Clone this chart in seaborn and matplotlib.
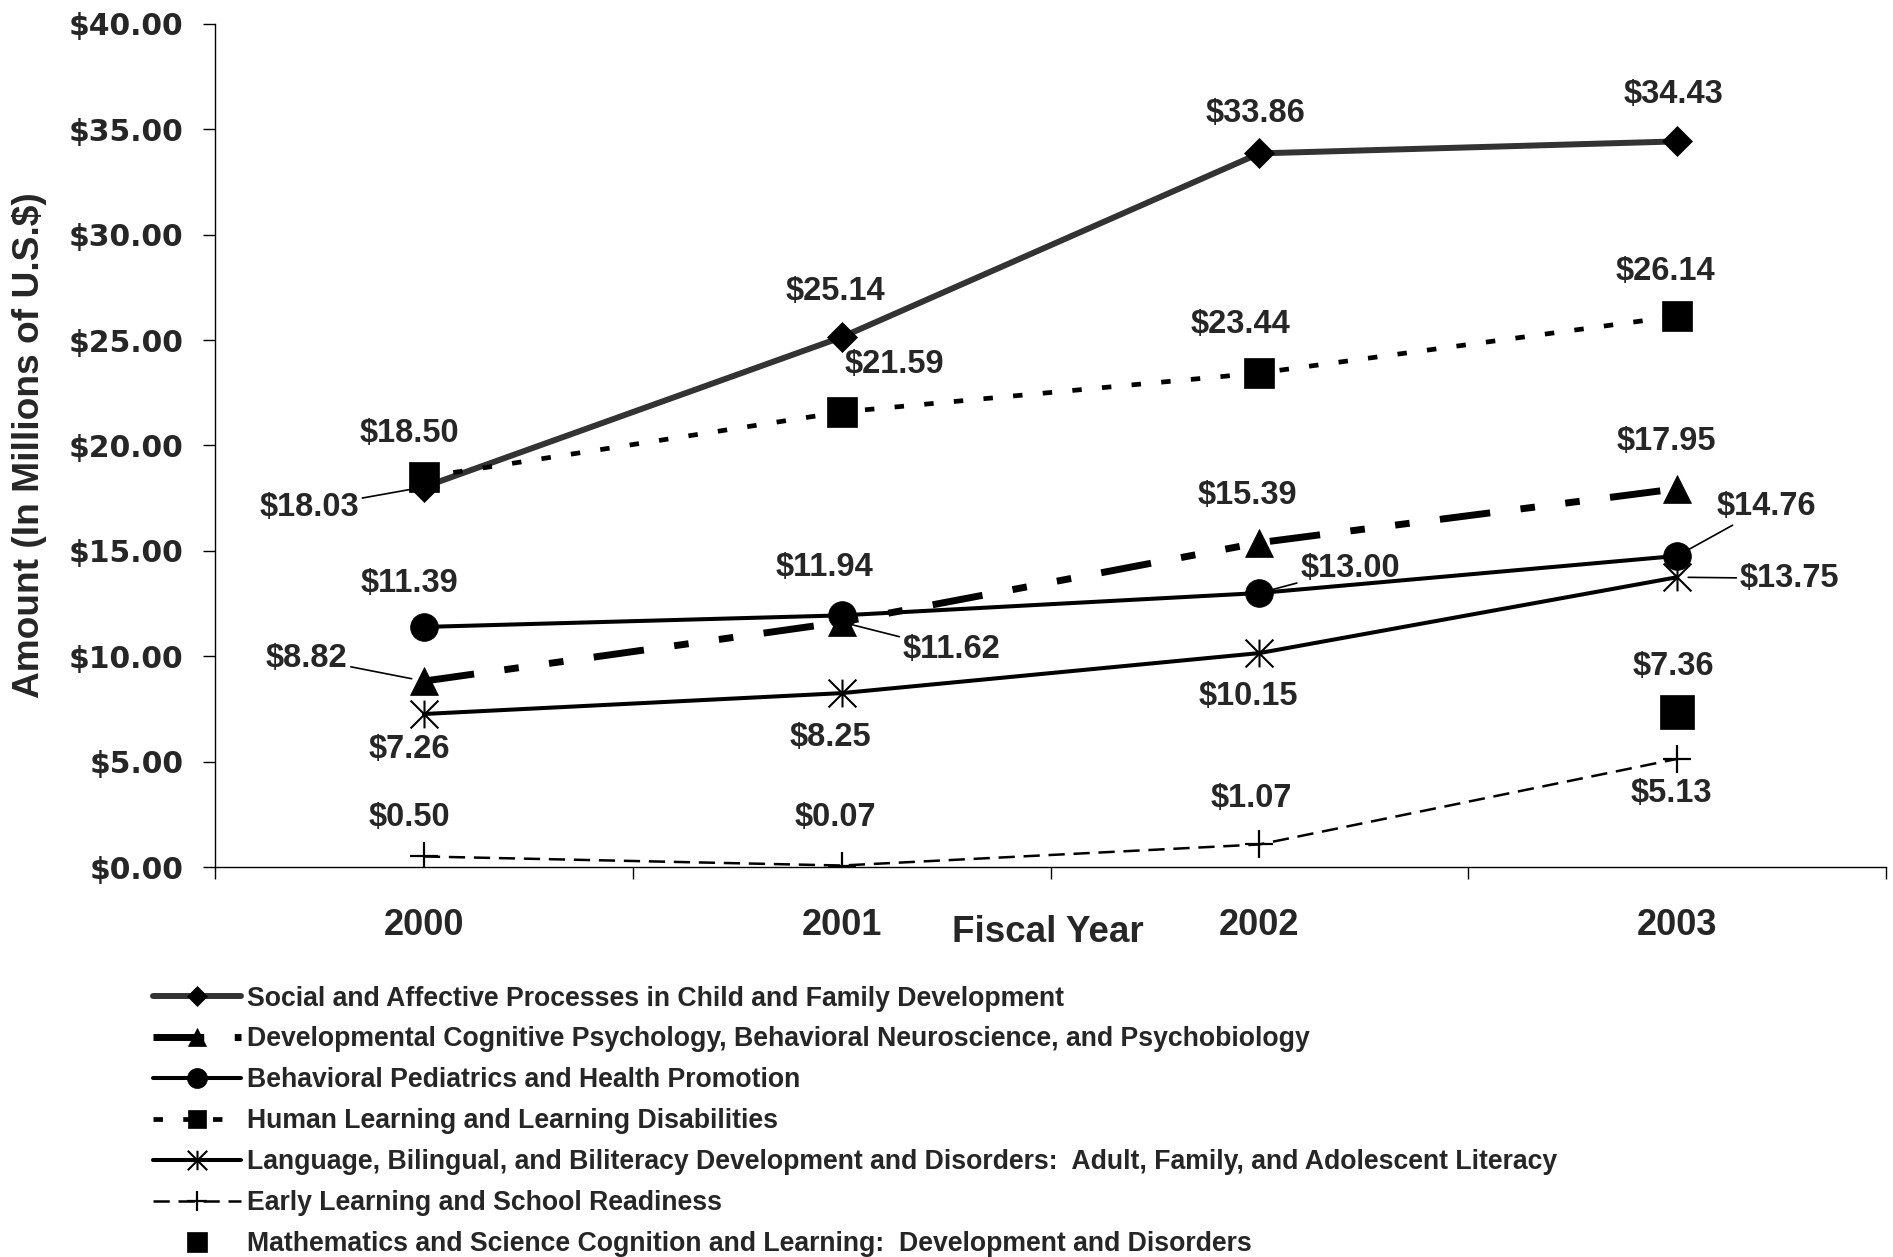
import matplotlib
matplotlib.use("Agg")
import matplotlib.pyplot as plt
from matplotlib import font_manager
from matplotlib.path import Path
import seaborn as sns
import pandas as pd

years = ["2000", "2001", "2002", "2003"]
pos = [0.5, 1.5, 2.5, 3.5]

social = [18.03, 25.14, 33.86, 34.43]
developmental = [8.82, 11.62, 15.39, 17.95]
pediatrics = [11.39, 11.94, 13.00, 14.76]
human_learning = [18.50, 21.59, 23.44, 26.14]
language = [7.26, 8.25, 10.15, 13.75]
early = [0.50, 0.07, 1.07, 5.13]
math_year = ["2003"]
math_vals = [7.36]

names = [
    "Social and Affective Processes in Child and Family Development",
    "Developmental Cognitive Psychology, Behavioral Neuroscience, and Psychobiology",
    "Behavioral Pediatrics and Health Promotion",
    "Human Learning and Learning Disabilities",
    "Language, Bilingual, and Biliteracy Development and Disorders:  Adult, Family, and Adolescent Literacy",
    "Early Learning and School Readiness",
    "Mathematics and Science Cognition and Learning:  Development and Disorders",
]

sns.set_style("ticks")
plt.rcParams['font.family'] = ['Liberation Sans', 'DejaVu Sans']
plt.rcParams['font.weight'] = 'bold'

installed = {f.name for f in font_manager.fontManager.ttflist}
narrow = 'Liberation Sans Narrow' if 'Liberation Sans Narrow' in installed else 'Liberation Sans'

# asterisk: x with a vertical bar
star = Path([(0, -1), (0, 1), (-1, -1), (1, 1), (-1, 1), (1, -1)],
            [Path.MOVETO, Path.LINETO, Path.MOVETO, Path.LINETO, Path.MOVETO, Path.LINETO])

fig = plt.figure(figsize=(18.93, 12.57), dpi=100)
ax = fig.add_axes([215 / 1893, 1 - 867 / 1257, 1671 / 1893, 843 / 1257])

styles = [
    (social, dict(color="#333333", lw=4.3, marker="D", ms=14.8, mfc="black", mec="black", mew=0.5)),
    (developmental, dict(color="black", lw=5, marker="^", ms=20, mfc="black", mec="black", mew=0.5,
                         linestyle=(0, (7.3, 4.4, 2.1, 4.4, 2.1, 4.4)))),
    (pediatrics, dict(color="black", lw=2.9, marker="o", ms=20, mfc="black", mec="black", mew=0.5)),
    (human_learning, dict(color="black", lw=3.4, marker="s", ms=21, mfc="black", mec="black", mew=0.5,
                          linestyle=(0, (2.0, 4.3)))),
    (language, dict(color="black", lw=2.9, marker=star, ms=20, mfc="black", mec="black", mew=1.5)),
    (early, dict(color="black", lw=1.8, marker="+", ms=20, mfc="black", mec="black", mew=1.6,
                 linestyle=(0, (6.5, 3.5)))),
]

for (vals, kw), name in zip(styles, names):
    df = pd.DataFrame({"x": pos, "y": vals})
    sns.lineplot(data=df, x="x", y="y", ax=ax, label=name, **kw)

mdf = pd.DataFrame({"x": [pos[years.index(y)] for y in math_year], "y": math_vals})
sns.lineplot(data=mdf, x="x", y="y", ax=ax, label=names[6], color="black", lw=0,
             marker="s", ms=24.5, mfc="black", mec="black", mew=0.5)

ax.set_xlim(0, 4)
ax.set_ylim(0, 40)
ax.set_xticks([0, 1, 2, 3, 4])
ax.set_xticklabels([])
ax.set_xticks(pos, minor=True)
ax.set_xticklabels(years, minor=True)
ax.tick_params(axis="x", which="major", direction="out", length=8.7, width=1, color="black")
ax.tick_params(axis="x", which="minor", length=0, pad=29.5, labelsize=26)
ax.set_yticks(range(0, 41, 5))
ax.set_yticklabels([f"${v:.2f}" for v in range(0, 41, 5)],
                   fontfamily="DejaVu Sans", fontweight="bold", fontsize=21.5)
ax.tick_params(axis="y", direction="out", length=8.7, width=1, color="black", pad=14)
for s in ["top", "right"]:
    ax.spines[s].set_visible(False)
for s in ["left", "bottom"]:
    ax.spines[s].set_color("black")
    ax.spines[s].set_linewidth(1)
ax.set_xlabel("")
ax.set_ylabel("")

fig.text(30 / 1893, 1 - 445 / 1257, "Amount (In Millions of U.S.$)", rotation=90,
         ha="center", va="center", fontsize=26.7, fontweight="bold", family=[narrow, 'Liberation Sans'])
ax.text(0.4985, -0.078, "Fiscal Year", transform=ax.transAxes, ha="center", va="center",
        fontsize=26.5, fontweight="bold")

# data labels: (series values, index, dx, dy) offsets in reference display pixels
k = 1.2073 / (100 / 72)
plain = [
    (social, 1, -5, 38), (social, 2, -3, 33), (social, 3, -3, 39),
    (human_learning, 0, -12, 36), (human_learning, 1, 44, 39), (human_learning, 2, -16, 40),
    (human_learning, 3, -10, 37),
    (developmental, 2, -10, 39), (developmental, 3, -9, 39),
    (pediatrics, 0, -12, 36), (pediatrics, 1, -14, 40),
    (language, 0, -12, -29), (language, 1, -9, -37), (language, 2, -9, -36),
    (early, 0, -12, 32), (early, 1, -5, 40), (early, 2, -7, 38), (early, 3, -5, -29),
]
for vals, i, dx, dy in plain:
    ax.annotate(f"${vals[i]:.2f}", (pos[i], vals[i]), xytext=(dx * k, dy * k),
                textcoords="offset points", ha="center", va="center", fontsize=23.5, fontweight="bold")
ax.annotate(f"${math_vals[0]:.2f}", (pos[3], math_vals[0]), xytext=(-3 * k, 38 * k),
            textcoords="offset points", ha="center", va="center", fontsize=23.5, fontweight="bold")

leader = [
    (social, 0, -95, -17, 6), (developmental, 0, -97, 19, 9), (developmental, 1, 91, -23, 9),
    (pediatrics, 2, 75, 20, 10), (pediatrics, 3, 74, 41, 10), (language, 3, 93, -1, 8),
]
for vals, i, dx, dy, sh in leader:
    ax.annotate(f"${vals[i]:.2f}", (pos[i], vals[i]), xytext=(dx * k, dy * k),
                textcoords="offset points", ha="center", va="center", fontsize=23.5, fontweight="bold",
                arrowprops=dict(arrowstyle="-", color="black", lw=1.2, shrinkA=0, shrinkB=sh))

handles, labels = ax.get_legend_handles_labels()
if ax.get_legend():
    ax.get_legend().remove()
leg = fig.legend(handles, labels, loc="upper left", bbox_to_anchor=(153 / 1893, 1 - 985.5 / 1257),
                 frameon=False, handlelength=3.3, handletextpad=0.22, labelspacing=0.56,
                 borderpad=0, borderaxespad=0, prop=dict(weight="bold", size=19.2))
for h, ms in zip(leg.legend_handles, [10.2, 13, 14.4, 13, 14, 15, 13.7]):
    h.set_markersize(ms)

fig.savefig("out.png", dpi=100, facecolor="white")
